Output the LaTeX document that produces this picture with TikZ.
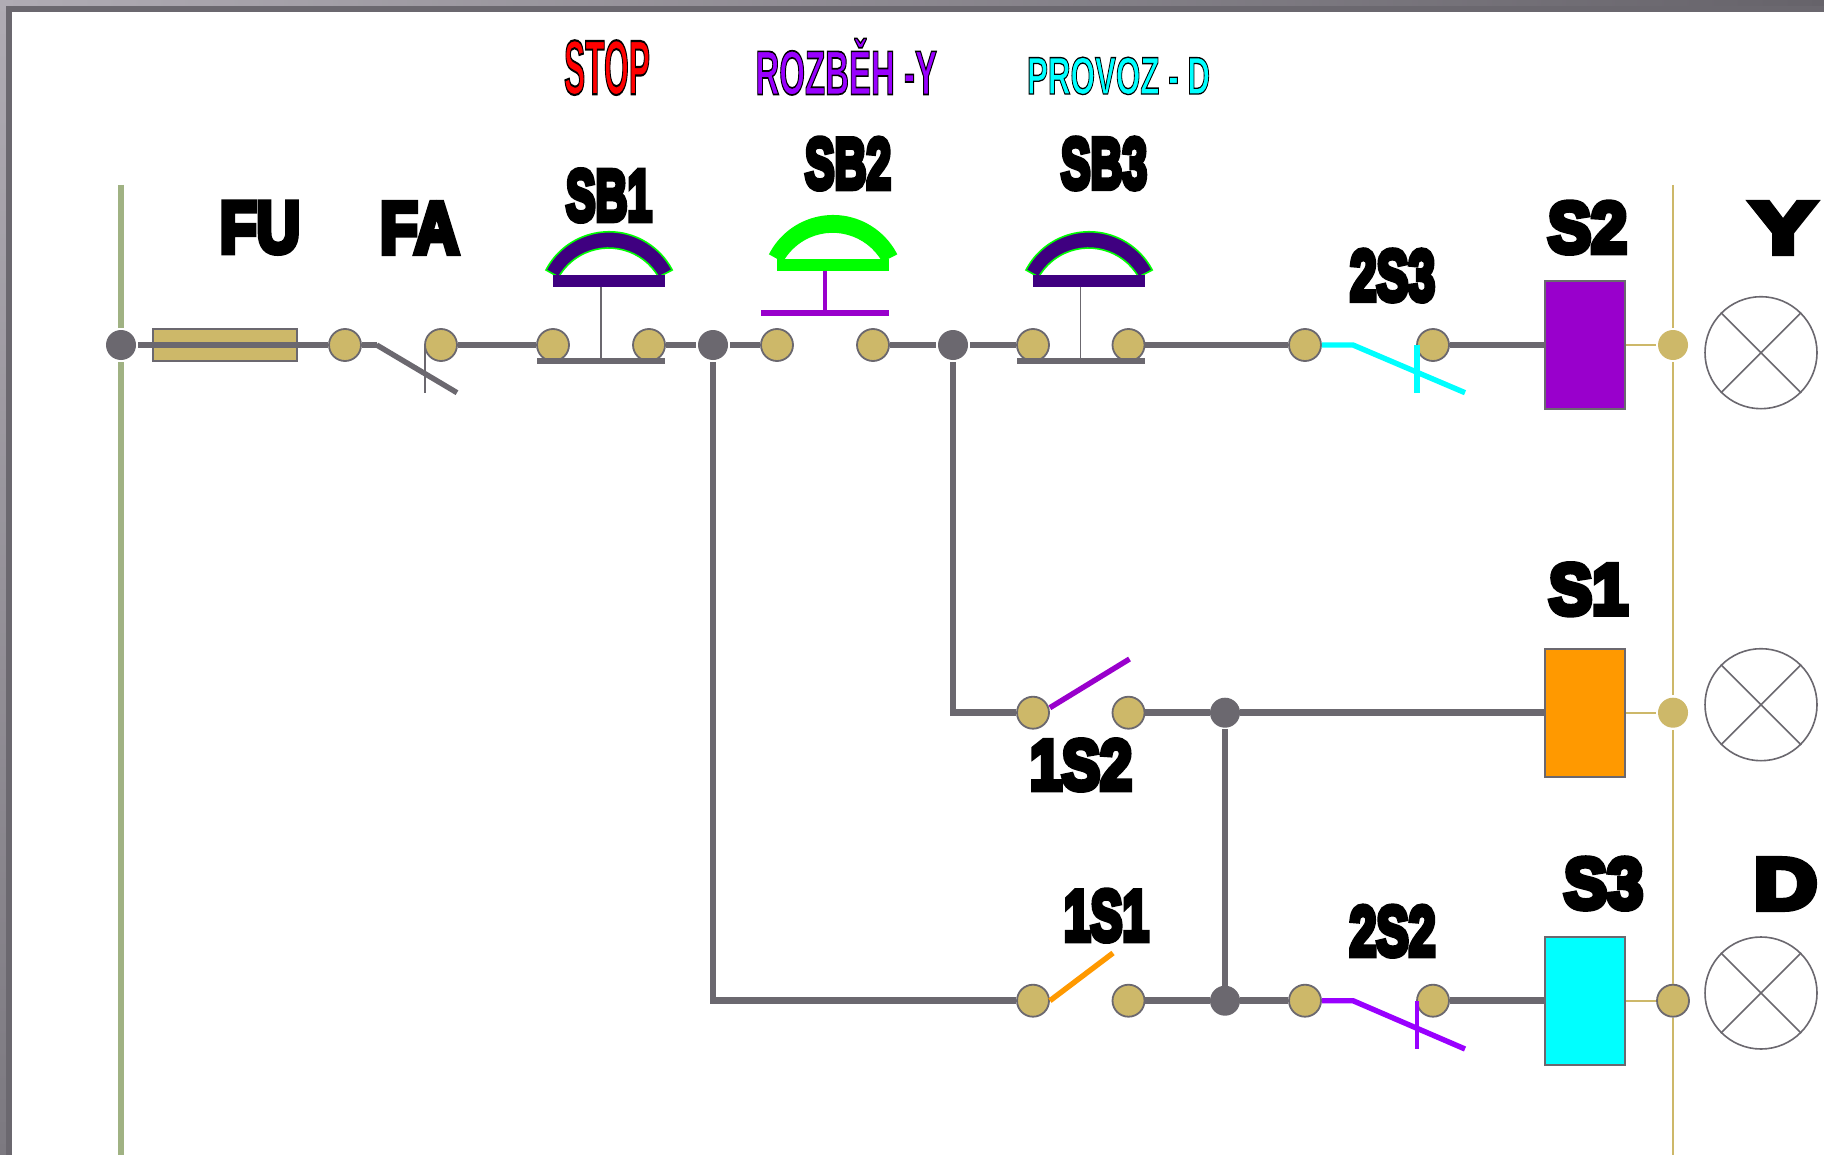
\documentclass[tikz,border=0pt]{standalone}
\usepackage{fontspec}
\setmainfont{Liberation Sans}
\definecolor{wirec}{HTML}{6B686F}
\definecolor{goldc}{HTML}{CDB869}
\definecolor{railc}{HTML}{A0B283}
\definecolor{indigoc}{HTML}{3F0080}
\definecolor{violetc}{HTML}{9900CC}
\definecolor{brightv}{HTML}{9900FF}
\definecolor{orangec}{HTML}{FF9900}
\definecolor{cyanc}{HTML}{00FFFF}
\definecolor{greenc}{HTML}{00FF00}
\definecolor{redc}{HTML}{FF0000}
\definecolor{framelt}{HTML}{B0ACB4}
\definecolor{framedk}{HTML}{66636A}
\definecolor{framemd}{HTML}{7C7980}
\tikzset{
  wire/.style={draw=wirec,line width=3.4pt},
  goldwire/.style={draw=goldc,line width=1pt},
  thinstem/.style={draw=wirec,line width=.8pt},
  blade/.style={line width=2.7pt},
  dotgold/.style={circle,draw=wirec,line width=.9pt,fill=goldc,minimum size=16pt,inner sep=0pt},
  dothalo/.style={circle,fill=goldc,minimum size=15pt,inner sep=0pt,outer sep=1.2pt},
  junc/.style={circle,fill=wirec,minimum size=15pt,inner sep=0pt,outer sep=0pt},
  junchalo/.style={junc,outer sep=1pt},
  coil/.style={rectangle,draw=wirec,line width=1pt,minimum width=40pt,minimum height=64pt,inner sep=0pt},
  lamp/.style={circle,draw=wirec,line width=.8pt,minimum size=56pt,inner sep=0pt},
  lab/.style={inner sep=0pt,outer sep=0pt}
}
\newcommand\lbl[8]{%
  \pgfmathsetlengthmacro\lblw{(#3-#2)*.5}%
  \pgfmathsetlengthmacro\lblh{(#5-#4-2*#6*.9)*.5}%
  \pgfmathsetmacro\lbly{#5-#6*.9}%
  \node[lab,anchor=south west] (#1) at (#2,\lbly) {\resizebox{\lblw}{\lblh}{\bfseries\fontsize{40}{40}\selectfont\color{#7}\special{pdf:code 0 0 0 RG #6 w 2 Tr}#8\special{pdf:code 0 Tr}}};%
}
\newcommand\archsh[4]{%
  \begin{scope}[shift={(#1,#2)}]
    \path[fill=#3,draw=#4,line width=.8pt] (546,270) arc[start angle=-152.4,end angle=-27.6,radius=71.2]
      -- (658.6,277) arc[start angle=-29.8,end angle=-150.2,radius=57.6] -- cycle;
    \fill[#3] (553,275) rectangle (664.5,286.7);
  \end{scope}%
}
\begin{document}
\begin{tikzpicture}[x=.5pt,y=-.5pt]
\useasboundingbox (0,0) rectangle (1824,1155);
\fill[white] (0,0) rectangle (1824,1155);
% frame
\shade[left color=framelt,right color=framedk] (0,0) rectangle (1824,6);
\fill[wirec] (6,6) rectangle (1824,12);
\shade[top color=framelt,bottom color=framemd] (0,0) rectangle (6,1155);
\fill[wirec] (6,6) rectangle (12,1155);
% fuse
\node[rectangle,draw=wirec,line width=1pt,fill=goldc,minimum width=72pt,minimum height=16.3pt,inner sep=0pt] (fuse) at (225,345) {};
% row 1 nodes
\node[junchalo] (dL) at (121,345) {};
\node[dotgold] (a1) at (345,345) {};
\node[dotgold] (a2) at (441,345) {};
\node[dotgold] (b1) at (553,345) {};
\node[dotgold] (b2) at (649,345) {};
\node[junchalo] (J1) at (713,345) {};
\node[dotgold] (c1) at (777,345) {};
\node[dotgold] (c2) at (873,345) {};
\node[junchalo] (J2) at (953,345) {};
\node[dotgold] (e1) at (1033,345) {};
\node[dotgold] (e2) at (1128.5,345) {};
\node[dotgold] (f1) at (1305,345) {};
\node[dotgold] (f2) at (1433,345) {};
\node[coil,fill=violetc] (S2) at (1585,345) {};
\node[dothalo] (g1) at (1673,345) {};
\node[lamp] (L1) at (1761,352.7) {};
% row 2 nodes
\node[dotgold] (h1) at (1033,712.7) {};
\node[dotgold] (h2) at (1128.5,712.7) {};
\node[junc] (J3) at (1225,712.7) {};
\node[coil,fill=orangec] (S1) at (1585,712.7) {};
\node[dothalo] (g2) at (1673,712.7) {};
\node[lamp] (L2) at (1761,704.7) {};
% row 3 nodes
\node[dotgold] (i1) at (1033,1000.7) {};
\node[dotgold] (i2) at (1128.5,1000.7) {};
\node[junc] (J4) at (1225,1000.7) {};
\node[dotgold] (k1) at (1305,1000.7) {};
\node[dotgold] (k2) at (1433,1000.7) {};
\node[coil,fill=cyanc] (S3) at (1585,1000.7) {};
\node[dotgold] (g3) at (1673,1000.7) {};
\node[lamp] (L3) at (1761,993) {};
% free ends
\coordinate (railLt) at (121,185);
\coordinate (railLb) at (121,1155);
\coordinate (railRt) at (1673,185);
\coordinate (railRb) at (1673,1155);
\coordinate (fa1) at (376.7,345);
\coordinate (fa2) at (457,392.7);
\coordinate (fa3) at (425,345);
\coordinate (fa4) at (425,392.7);
\coordinate (cornerA) at (713,1000.7);
\coordinate (cornerB) at (953,712.7);
\coordinate (t1) at (1353,345);
\coordinate (t2) at (1465,392.7);
\coordinate (t3) at (1417,345);
\coordinate (t4) at (1417,392.7);
\coordinate (u1) at (1353,1000.7);
\coordinate (u2) at (1465,1049);
\coordinate (u3) at (1417,1001);
\coordinate (u4) at (1417,1049);
\coordinate (v2) at (1129.5,659);
\coordinate (w2) at (1113,953);
% rails
\draw[draw=railc,line width=3pt] (railLt) -- (dL.north) (dL.south) -- (railLb);
\draw[goldwire] (railRt) -- (g1.north) (g1.south) -- (g2.north) (g2.south) -- (g3.north) (g3.south) -- (railRb);
% wires
\draw[wire] (dL.east) -- (a1.west);
\draw[wire] (a1.east) -- (fa1);
\draw[wire] (a2.east) -- (b1.west);
\draw[wire] (b2.east) -- (J1.west);
\draw[wire] (J1.east) -- (c1.west);
\draw[wire] (c2.east) -- (J2.west);
\draw[wire] (J2.east) -- (e1.west);
\draw[wire] (e2.east) -- (f1.west);
\draw[wire] (f2.east) -- (S2.west);
\draw[wire] (J1.south) -- (cornerA) -- (i1.west);
\draw[wire] (J2.south) -- (cornerB) -- (h1.west);
\draw[wire] (h2.east) -- (J3.west);
\draw[wire] (J3.east) -- (S1.west);
\draw[wire,shorten <=.6pt] (J3.south) -- (J4.north);
\draw[wire] (i2.east) -- (J4.west);
\draw[wire] (J4.east) -- (k1.west);
\draw[wire] (k2.east) -- (S3.west);
% coil to rail
\draw[goldwire] (S2.east) -- (g1.west);
\draw[goldwire] (S1.east) -- (g2.west);
\draw[goldwire] (S3.east) -- (g3.west);
% lamps
\foreach \l in {L1,L2,L3}{
  \draw[thinstem] (\l.45) -- (\l.225) (\l.135) -- (\l.315);
}
% FA blade
\draw[blade,draw=wirec] (fa1) -- (fa2);
\draw[thinstem] (fa3) -- (fa4);
% contact blades
\draw[blade,draw=cyanc,line join=bevel] (f1.east) -- (t1) -- (t2);
\draw[line width=2.8pt,draw=cyanc] (t3) -- (t4);
\draw[blade,draw=violetc] (h1.east) ++(0,-5) -- (v2);
\draw[blade,draw=orangec] (i1.east) -- (w2);
\draw[blade,draw=brightv,line join=bevel] (k1.east) -- (u1) -- (u2);
\draw[line width=2.4pt,draw=brightv] (u3) -- (u4);
% push buttons
\archsh{0}{0}{indigoc}{greenc}
\fill[wirec] (536.8,357.7) rectangle (664.5,363.7);
\coordinate (sb1a) at (601,286.7); \coordinate (sb1b) at (601,358);
\draw[thinstem] (sb1a) -- (sb1b);
\archsh{224}{-16}{greenc}{greenc}
\fill[violetc] (761,310) rectangle (889,316);
\coordinate (sb2a) at (825,270.7); \coordinate (sb2b) at (825,310);
\draw[line width=2pt,draw=violetc] (sb2a) -- (sb2b);
\archsh{480}{0}{indigoc}{greenc}
\fill[wirec] (1017,357.7) rectangle (1145,363.7);
\coordinate (sb3a) at (1080.6,286.7); \coordinate (sb3b) at (1080.6,358);
\draw[thinstem] (sb3a) -- (sb3b);
% labels
\lbl{tstop}{564}{650}{40}{96}{1.1}{redc}{STOP}
\lbl{troz}{755.5}{937}{38}{96}{1.1}{brightv}{ROZBĚH -Y}
\lbl{tpro}{1027}{1210}{56.7}{95.5}{1.0}{cyanc}{PROVOZ - D}
\lbl{tfu}{220}{300}{200}{256}{3.4}{black}{FU}
\lbl{tfa}{380}{459}{200}{256}{3.4}{black}{FA}
\lbl{tsb1}{566}{652}{167.7}{224}{3.4}{black}{SB1}
\lbl{tsb2}{805}{891}{136}{192}{3.4}{black}{SB2}
\lbl{tsb3}{1061}{1147}{136}{192}{3.4}{black}{SB3}
\lbl{t2s3}{1350}{1435}{248}{304}{3.4}{black}{2S3}
\lbl{ts2}{1548}{1627}{200}{256}{3.4}{black}{S2}
\lbl{ty}{1751}{1815}{200}{256}{3.4}{black}{Y}
\lbl{ts1}{1549}{1628}{561.7}{617.7}{3.4}{black}{S1}
\lbl{t1s2}{1030}{1132}{737.7}{793}{3.4}{black}{1S2}
\lbl{t1s1}{1064}{1149}{888}{944}{3.4}{black}{1S1}
\lbl{t2s2}{1349.5}{1435.6}{904}{959}{3.4}{black}{2S2}
\lbl{ts3}{1564}{1643}{856}{912}{3.4}{black}{S3}
\lbl{td}{1754}{1817}{856}{912}{3.4}{black}{D}
\end{tikzpicture}
\end{document}
